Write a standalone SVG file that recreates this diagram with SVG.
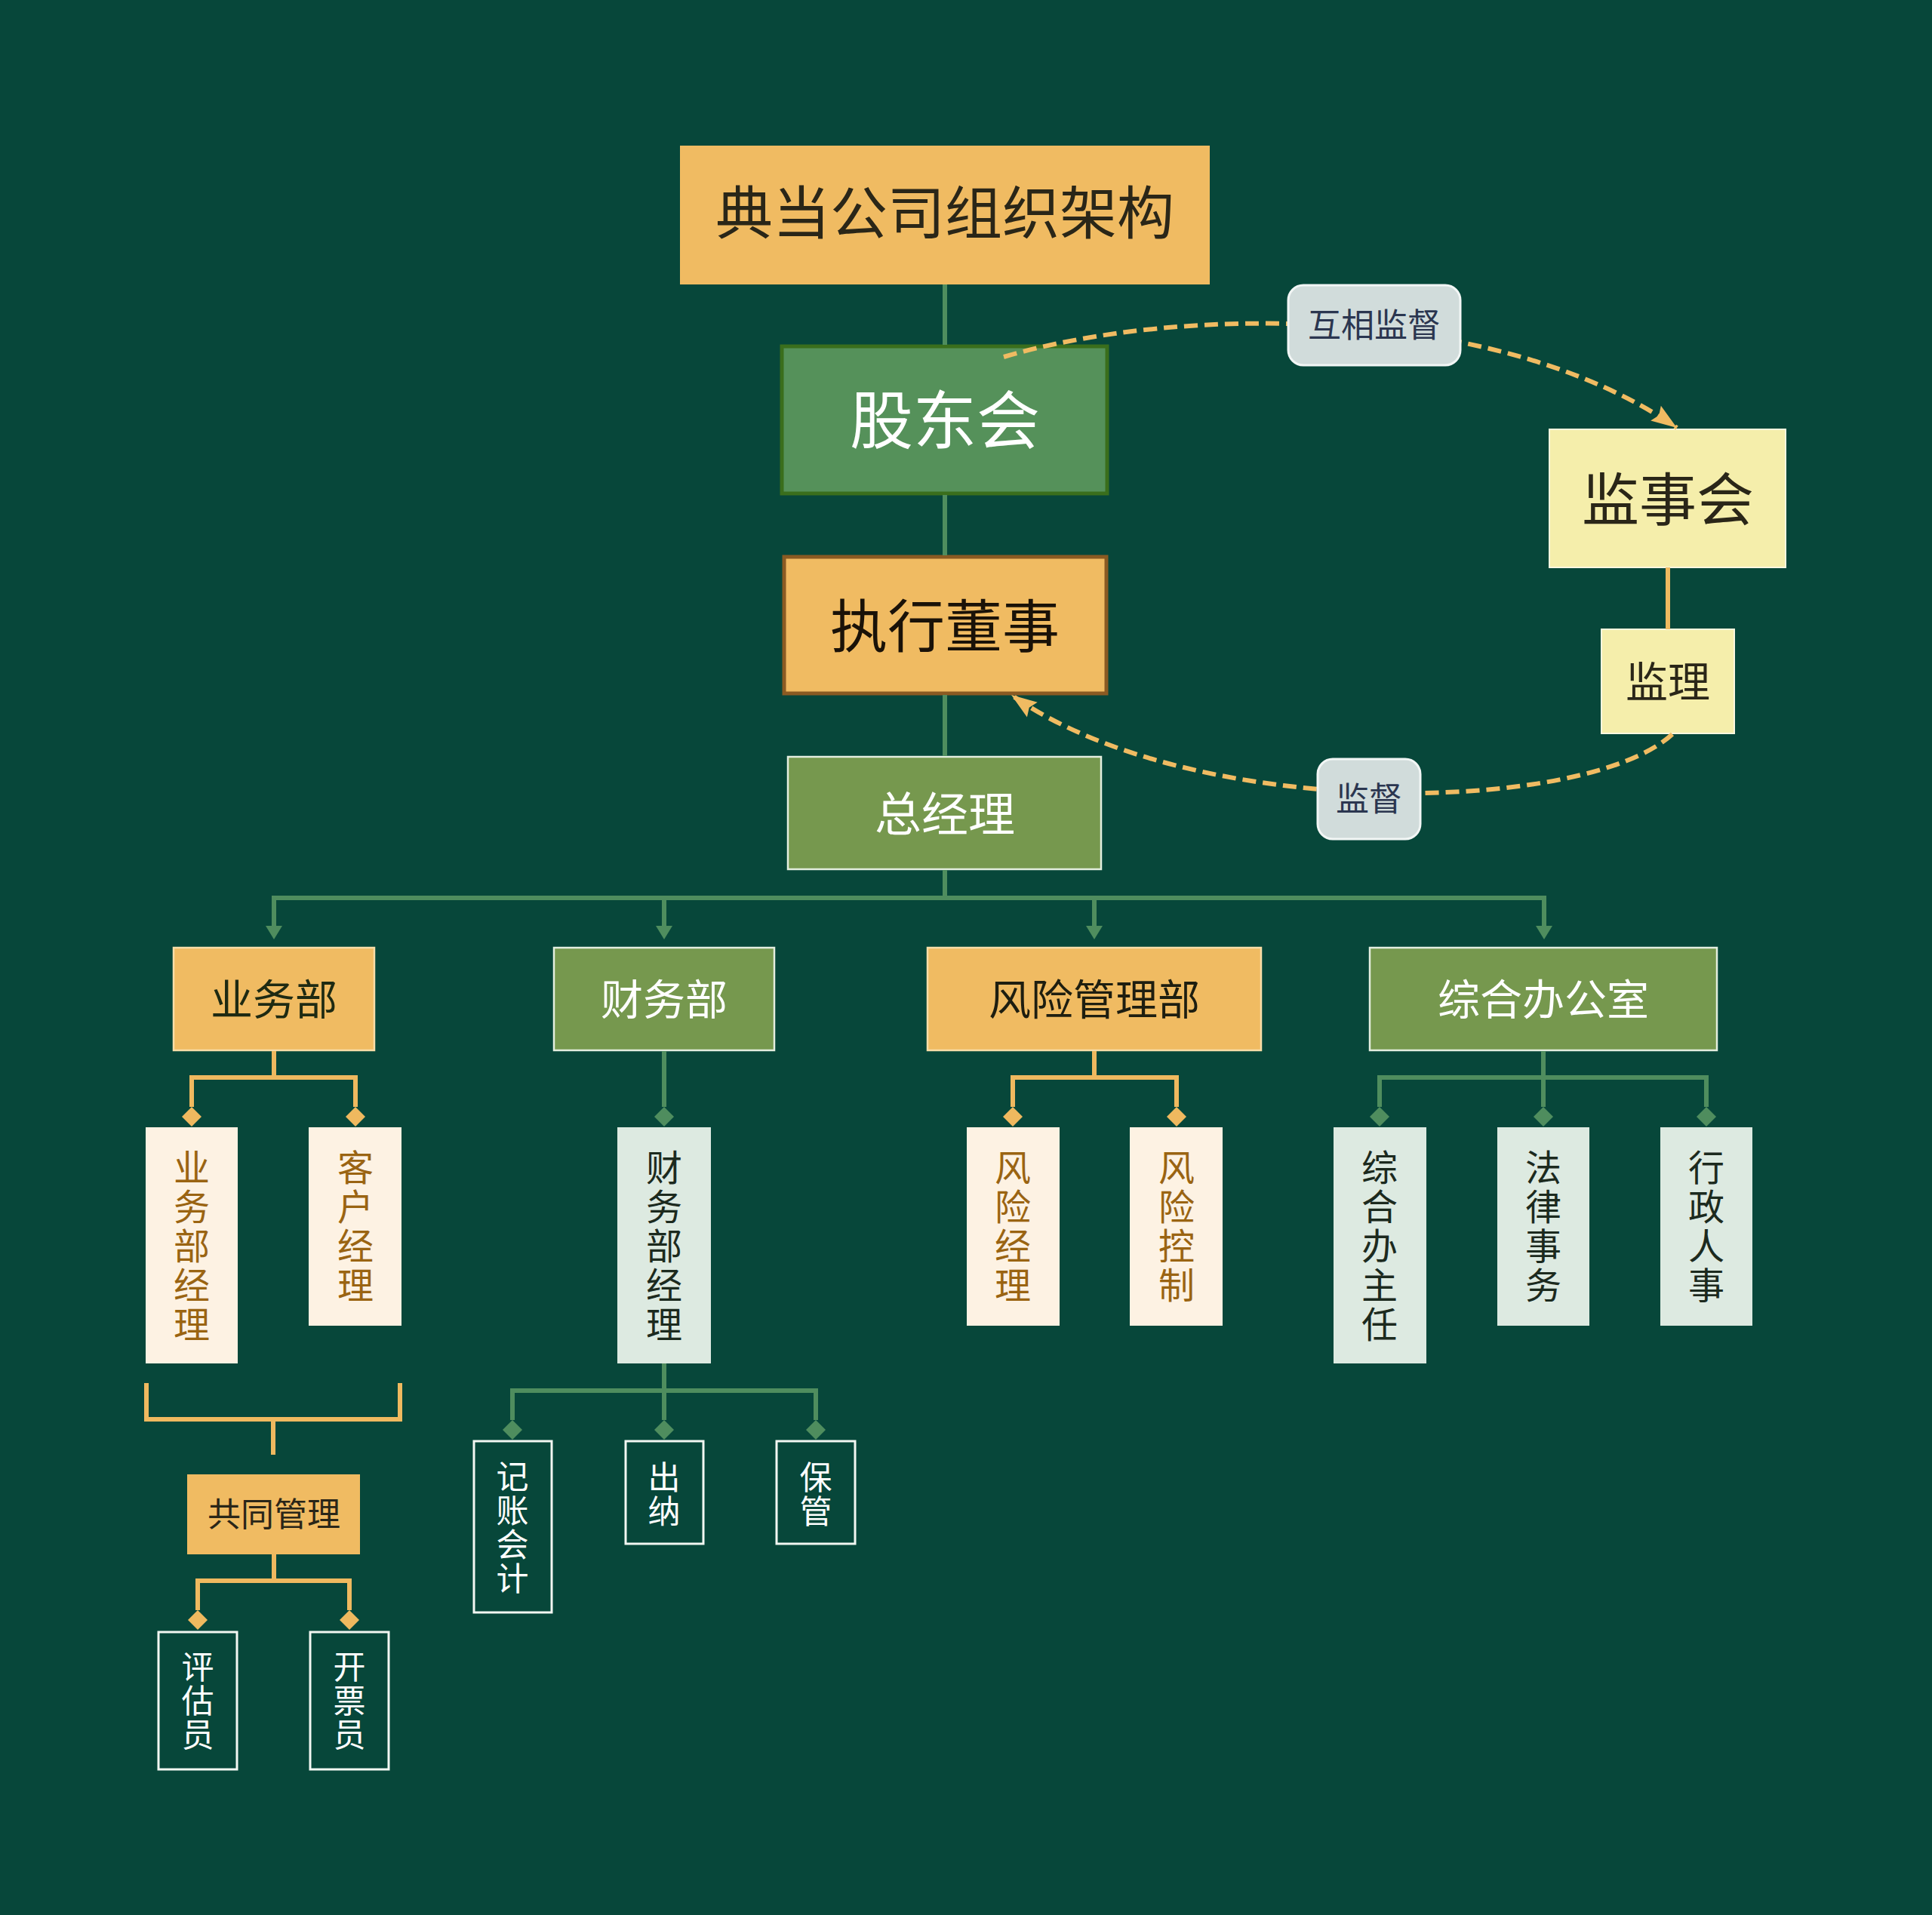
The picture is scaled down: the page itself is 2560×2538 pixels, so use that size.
<svg xmlns="http://www.w3.org/2000/svg" width="2560" height="2538" viewBox="0 0 2560 2538">
<defs>
<style>
text{font-family:"Noto Sans CJK SC","Noto Sans",sans-serif;text-anchor:middle;}
.v{writing-mode:vertical-rl;}
.orange{fill:#F0BB62;stroke:#F8DDA8;stroke-width:2.5;}
.green{fill:#76984E;stroke:#E4EEDF;stroke-width:2.5;}
.cream{fill:#FDF2E3;}
.mint{fill:#DDEAE1;}
.outl{fill:#07473A;stroke:#F2F7F2;stroke-width:3;}
.pale{fill:#F5EEAB;stroke:#FBF8E0;stroke-width:2;}
.pill{fill:#D1DCDB;stroke:#F2F6F5;stroke-width:3;}
.tdark{fill:#2A2618;}
.twhite{fill:#FFFFFF;}
.tbrown{fill:#9A6412;font-size:48px;letter-spacing:4px;}
.tmint{fill:#1C2A1E;font-size:48px;letter-spacing:4px;}
.tout{fill:#FFFFFF;font-size:43px;letter-spacing:2px;}
.tlabel{fill:#2B3650;font-size:44px;}
.gline{fill:none;stroke:#4F8D5E;stroke-width:6;}
.oline{fill:none;stroke:#EFB95F;stroke-width:6;}
.dash{fill:none;stroke:#F0BB62;stroke-width:6;stroke-dasharray:18 9;}
</style>
<marker id="garrow" markerUnits="userSpaceOnUse" markerWidth="20" markerHeight="24" refX="0" refY="11" orient="auto" overflow="visible">
<path d="M0,0 L18,11 L0,22 z" fill="#4F8D5E"/>
</marker>
<marker id="gdia" markerUnits="userSpaceOnUse" markerWidth="28" markerHeight="28" refX="0" refY="13" orient="auto" overflow="visible">
<path d="M0,13 L13,0 L26,13 L13,26 z" fill="#4F8D5E"/>
</marker>
<marker id="odia" markerUnits="userSpaceOnUse" markerWidth="28" markerHeight="28" refX="0" refY="13" orient="auto" overflow="visible">
<path d="M0,13 L13,0 L26,13 L13,26 z" fill="#EFB95F"/>
</marker>
<marker id="oarrow" markerUnits="userSpaceOnUse" markerWidth="36" markerHeight="26" refX="34" refY="12" orient="auto" overflow="visible">
<path d="M0,0 L34,12 L0,24 L5,12 z" fill="#F0BB62"/>
</marker>
</defs>
<rect x="0" y="0" width="2560" height="2538" fill="#07473A"/>

<g id="nodes">
<g id="n-title"><rect x="901" y="193" width="702" height="184" fill="#F0BB62"/><text x="1252" y="310" font-size="76" class="tdark">典当公司组织架构</text></g>
<g id="n-gudong"><rect x="1036" y="459" width="431" height="195" fill="#55915A" stroke="#3A6E1C" stroke-width="5"/><text x="1252" y="588" font-size="84" class="twhite">股东会</text></g>
<g id="n-zhixing"><rect x="1039" y="738" width="427" height="181" fill="#F0BB62" stroke="#8A5A22" stroke-width="5"/><text x="1252" y="858" font-size="76" fill="#1A1208">执行董事</text></g>
<g id="n-zongjingli"><rect x="1044" y="1003" width="415" height="149" class="green"/><text x="1252" y="1102" font-size="62" class="twhite">总经理</text></g>
<g id="n-jianshihui"><rect x="2053" y="569" width="313" height="183" class="pale"/><text x="2210" y="690" font-size="76" class="tdark">监事会</text></g>
<g id="n-jianli"><rect x="2122" y="834" width="176" height="138" class="pale"/><text x="2210" y="924" font-size="56" class="tdark">监理</text></g>

<g id="n-yewubu"><rect x="230" y="1256" width="266" height="136" class="orange"/><text x="363" y="1345" font-size="56" fill="#1E2A12">业务部</text></g>
<g id="n-caiwubu"><rect x="734" y="1256" width="292" height="136" class="green"/><text x="880" y="1345" font-size="56" class="twhite">财务部</text></g>
<g id="n-fengxian"><rect x="1229" y="1256" width="442" height="136" class="orange"/><text x="1450" y="1345" font-size="56" fill="#1E1E10">风险管理部</text></g>
<g id="n-zonghe"><rect x="1815" y="1256" width="460" height="136" class="green"/><text x="2045" y="1345" font-size="56" class="twhite">综合办公室</text></g>

<g id="n-ywbjl"><rect x="193" y="1494" width="122" height="313" class="cream"/><text class="v tbrown" x="254" y="1653">业务部经理</text></g>
<g id="n-khjl"><rect x="409" y="1494" width="123" height="263" class="cream"/><text class="v tbrown" x="471" y="1627">客户经理</text></g>
<g id="n-cwbjl"><rect x="818" y="1494" width="124" height="313" class="mint"/><text class="v tmint" x="880" y="1653">财务部经理</text></g>
<g id="n-fxjl"><rect x="1281" y="1494" width="123" height="263" class="cream"/><text class="v tbrown" x="1342" y="1627">风险经理</text></g>
<g id="n-fxkz"><rect x="1497" y="1494" width="123" height="263" class="cream"/><text class="v tbrown" x="1559" y="1627">风险控制</text></g>
<g id="n-zhbzr"><rect x="1767" y="1494" width="123" height="313" class="mint"/><text class="v tmint" x="1828" y="1653">综合办主任</text></g>
<g id="n-flsw"><rect x="1984" y="1494" width="122" height="263" class="mint"/><text class="v tmint" x="2045" y="1627">法律事务</text></g>
<g id="n-xzrs"><rect x="2200" y="1494" width="122" height="263" class="mint"/><text class="v tmint" x="2261" y="1627">行政人事</text></g>

<g id="n-gongtong"><rect x="248" y="1954" width="229" height="106" fill="#F0BB62"/><text x="363" y="2023" font-size="44" class="tdark">共同管理</text></g>
<g id="n-pinggu"><rect x="210" y="2163" width="104" height="182" class="outl"/><text class="v tout" x="262" y="2255">评估员</text></g>
<g id="n-kaipiao"><rect x="411" y="2163" width="104" height="182" class="outl"/><text class="v tout" x="463" y="2255">开票员</text></g>
<g id="n-jizhang"><rect x="628" y="1910" width="103" height="227" class="outl"/><text class="v tout" x="679" y="2025">记账会计</text></g>
<g id="n-chuna"><rect x="829" y="1910" width="103" height="136" class="outl"/><text class="v tout" x="880" y="1981">出纳</text></g>
<g id="n-baoguan"><rect x="1029" y="1910" width="104" height="136" class="outl"/><text class="v tout" x="1081" y="1981">保管</text></g>
</g>

<g id="connectors">
<path class="gline" d="M1252,377 V457"/>
<path class="gline" d="M1252,656 V736"/>
<path class="gline" d="M1252,921 V1002"/>
<path class="gline" d="M1252,1153 V1190"/>
<path class="gline" d="M363,1190 H2046"/>
<path class="gline" d="M363,1187 V1227" marker-end="url(#garrow)"/>
<path class="gline" d="M880,1190 V1227" marker-end="url(#garrow)"/>
<path class="gline" d="M1450,1190 V1227" marker-end="url(#garrow)"/>
<path class="gline" d="M2046,1187 V1227" marker-end="url(#garrow)"/>

<path class="oline" d="M363,1393 V1428 H254 V1467" marker-end="url(#odia)"/>
<path class="oline" d="M363,1428 H471 V1467" marker-end="url(#odia)"/>
<path class="gline" d="M880,1393 V1467" marker-end="url(#gdia)"/>
<path class="oline" d="M1450,1393 V1428 H1342 V1467" marker-end="url(#odia)"/>
<path class="oline" d="M1450,1428 H1559 V1467" marker-end="url(#odia)"/>
<path class="gline" d="M2045,1393 V1428 H1828 V1467" marker-end="url(#gdia)"/>
<path class="gline" d="M2045,1428 H2261 V1467" marker-end="url(#gdia)"/>
<path class="gline" d="M2045,1393 V1467" marker-end="url(#gdia)"/>

<path class="oline" d="M194,1833 V1881 H530 V1833"/>
<path class="oline" d="M362,1881 V1928"/>
<path class="oline" d="M363,2060 V2095 H262 V2134" marker-end="url(#odia)"/>
<path class="oline" d="M363,2095 H463 V2134" marker-end="url(#odia)"/>

<path class="gline" d="M880,1807 V1843 H679 V1882" marker-end="url(#gdia)"/>
<path class="gline" d="M880,1843 H1081 V1882" marker-end="url(#gdia)"/>
<path class="gline" d="M880,1807 V1882" marker-end="url(#gdia)"/>

<path class="oline" d="M2210,752 V834"/>

<path class="dash" d="M1330,473 C1560,405 1980,400 2222,567" marker-end="url(#oarrow)"/>
<path class="dash" d="M2216,973 C2100,1080 1580,1090 1340,921" marker-end="url(#oarrow)"/>

<g id="label-huxiang"><rect x="1707" y="378" width="228" height="106" rx="20" class="pill"/><text x="1821" y="447" class="tlabel">互相监督</text></g>
<g id="label-jiandu"><rect x="1746" y="1006" width="136" height="106" rx="20" class="pill"/><text x="1814" y="1075" class="tlabel">监督</text></g>
</g>
</svg>
